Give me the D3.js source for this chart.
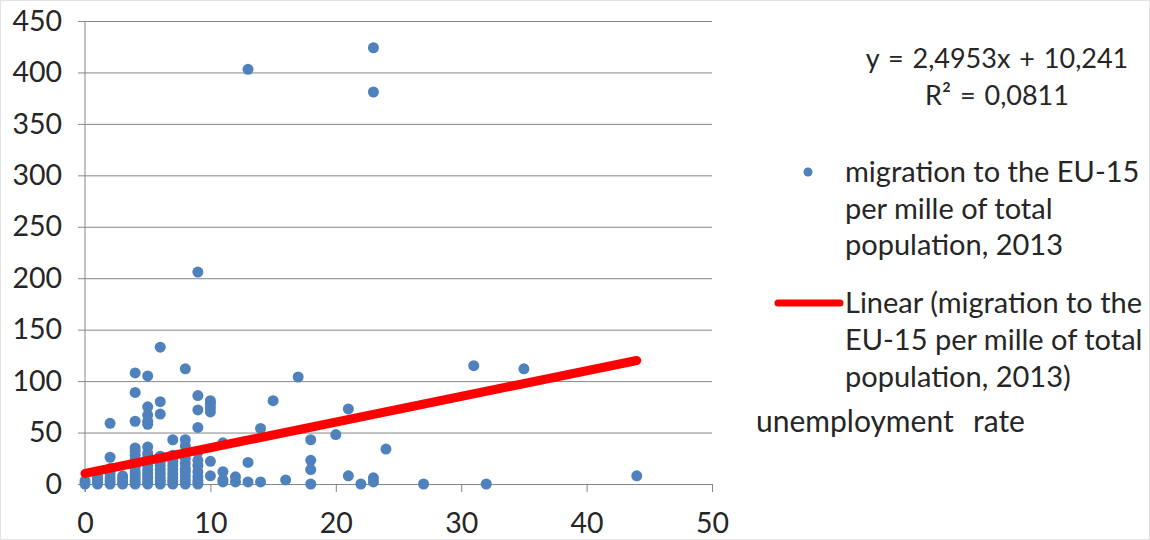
<!DOCTYPE html>
<html>
<head>
<meta charset="utf-8">
<script src="https://cdn.jsdelivr.net/npm/d3@7"></script>
<style>
  html, body { margin: 0; padding: 0; background: #fff; }
  svg { display: block; }
  text { font-family: Lato, "Open Sans", sans-serif; fill: #262626; }
</style>
</head>
<body>
<svg id="chart" width="1150" height="540"></svg>
<script>
// ---- data ----
const unemployment = [
  0,0,
  1,1,1,1,
  2,2,2,2,2,2,2,
  3,3,3,3,
  4,4,4,4,4,4,4,4,4,4,4,4,4,4,
  5,5,5,5,5,5,5,5,5,5,5,5,5,5,5,5,
  6,6,6,6,6,6,6,6,6,6,6,
  7,7,7,7,7,7,7,7,7,
  8,8,8,8,8,8,8,8,8,8,
  9,9,9,9,9,9,9,9,9,9,9,
  10,10,10,10,10,10,
  11,11,11,11,
  12,12,
  13,13,13,
  14,14,
  15,16,17,
  18,18,18,18,
  20,21,21,22,
  23,23,23,23,
  24,27,31,32,35,44
];
const migration = [
  0,3,
  0,2,5,8,
  0,3,6,10,15,26,59,
  0,2,5,8,
  0,3,6,9,12,16,20,24,28,32,35,61,89,108,
  0,2,5,8,11,14,18,22,26,30,36,58,61,67,75,105,
  0,3,6,10,14,18,22,27,68,80,133,
  0,3,6,10,14,18,22,28,43,
  0,4,8,12,15,20,25,37,43,112,
  0,3,7,12,18,23,31,55,72,86,206,
  8,22,70,74,78,81,
  2,4,12,40,
  2,7,
  2,21,403,
  2,54,
  81,4,104,
  0,14,23,43,
  48,8,73,0,
  2,6,381,424,
  34,0,115,0,112,8
];
const xTicks = [0,10,20,30,40,50];
const yTicks = [0,50,100,150,200,250,300,350,400,450];
const trendSlope = 2.4953;
const trendIntercept = 10.241;
const equationText = ["y = 2,4953x + 10,241", "R² = 0,0811"];
const seriesLabel = ["migration to the EU-15", "per mille of total", "population, 2013"];
const trendLabel = ["Linear (migration to the", "EU-15 per mille of total", "population, 2013)"];
const xAxisTitle = "unemployment  rate";

// ---- drawing ----
const svg = d3.select("#chart");
const pLeft = 85, pRight = 712, pTop = 21, pBottom = 484;
const x = d3.scaleLinear().domain([0, 50]).range([pLeft, pRight]);
const y = d3.scaleLinear().domain([0, 450]).range([pBottom, pTop]);
const gridColor = "#868686";

svg.append("rect").attr("x", 0.5).attr("y", 0.5).attr("width", 1149).attr("height", 539)
  .attr("fill", "none").attr("stroke", "#e3e3e3");

// y axis with gridlines
const yAxis = svg.append("g").attr("transform", `translate(${pLeft - 7},0)`)
  .call(d3.axisLeft(y).tickValues(yTicks).tickSize(-(pRight - pLeft + 7)).tickPadding(16).tickFormat(d3.format("d")));
yAxis.select(".domain").remove();
yAxis.selectAll(".tick line").attr("stroke", gridColor).attr("stroke-width", 1);
yAxis.selectAll("text").style("font-size", "28.5px").attr("fill", "#262626");

// x axis
const xAxis = svg.append("g").attr("transform", `translate(0,${pBottom})`)
  .call(d3.axisBottom(x).tickValues(xTicks).tickSize(8).tickSizeOuter(0).tickPadding(21));
xAxis.select(".domain").attr("stroke", gridColor);
xAxis.selectAll(".tick line").attr("stroke", gridColor);
xAxis.selectAll("text").style("font-size", "28.5px").attr("fill", "#262626");

// vertical axis line
svg.append("line").attr("x1", pLeft).attr("x2", pLeft).attr("y1", y(450)).attr("y2", pBottom + 8)
  .attr("stroke", gridColor);

// points
const pts = unemployment.map((u, i) => [u, migration[i]]);
svg.append("g").selectAll("circle").data(pts).join("circle")
  .attr("cx", d => x(d[0])).attr("cy", d => y(d[1])).attr("r", 5.5)
  .attr("fill", "#4f81bd");

// trendline
const xMin = d3.min(unemployment), xMax = d3.max(unemployment);
svg.append("line")
  .attr("x1", x(xMin)).attr("y1", y(trendSlope * xMin + trendIntercept))
  .attr("x2", x(xMax)).attr("y2", y(trendSlope * xMax + trendIntercept))
  .attr("stroke", "#ff0000").attr("stroke-width", 9).attr("stroke-linecap", "round");

// equation
svg.append("g").selectAll("text").data(equationText).join("text")
  .attr("x", 997).attr("y", (d, i) => 68 + i * 37)
  .attr("text-anchor", "middle").style("font-size", "27px").style("word-spacing", "2px").text(d => d);

// legend: series
svg.append("circle").attr("cx", 808).attr("cy", 172).attr("r", 4.5).attr("fill", "#4f81bd");
svg.append("g").selectAll("text").data(seriesLabel).join("text")
  .attr("x", 845).attr("y", (d, i) => 182 + i * 36.5)
  .style("font-size", "29px").text(d => d);

// legend: trendline
svg.append("line").attr("x1", 778).attr("x2", 840).attr("y1", 303).attr("y2", 303)
  .attr("stroke", "#ff0000").attr("stroke-width", 7).attr("stroke-linecap", "round");
svg.append("g").selectAll("text").data(trendLabel).join("text")
  .attr("x", 845).attr("y", (d, i) => 313 + i * 37)
  .style("font-size", "29px").text(d => d);

// axis title
svg.append("text").attr("x", 756).attr("y", 432).style("font-size", "30px")
  .style("white-space", "pre").style("word-spacing", "2px").attr("xml:space", "preserve").text(xAxisTitle);
</script>
</body>
</html>
